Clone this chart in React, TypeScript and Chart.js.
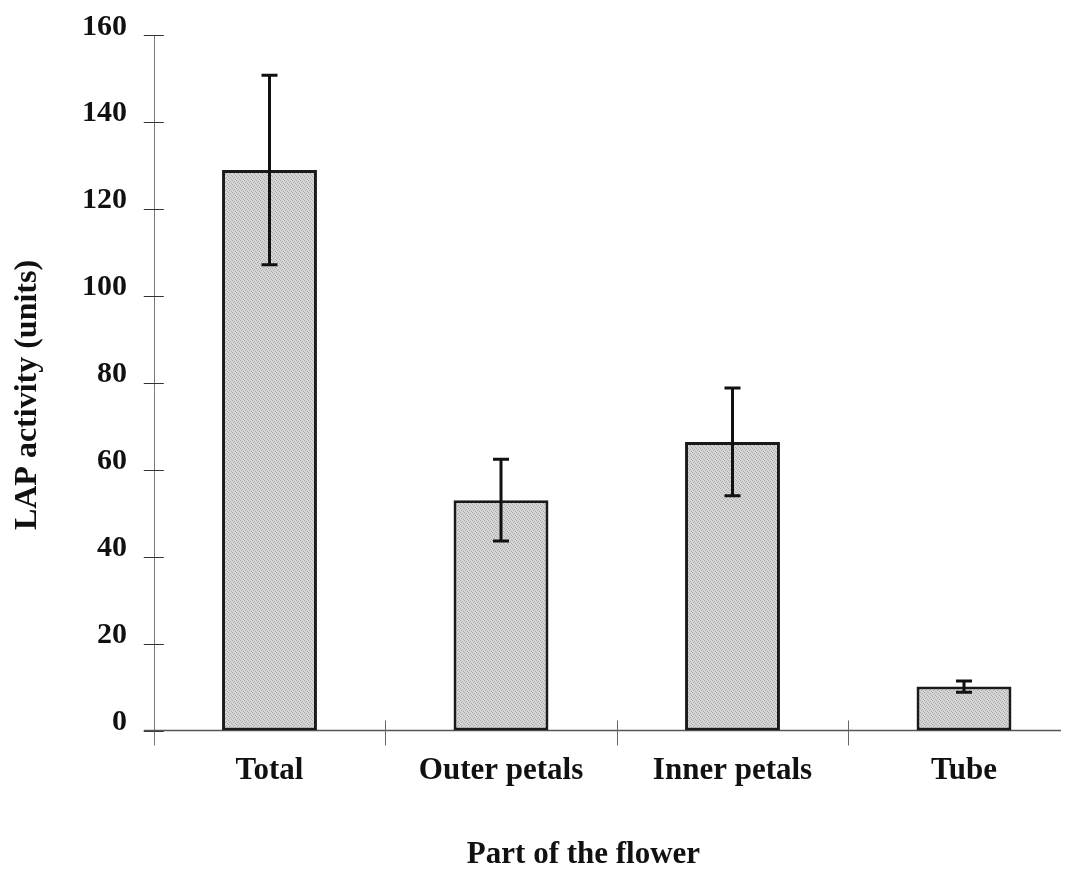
import { useEffect, useRef } from "react";
import { Chart, registerables } from "chart.js";

Chart.register(...registerables);

// Leucine aminopeptidase activity in different parts of the flower
const categories = ["Total", "Outer petals", "Inner petals", "Tube"];
const activityMeans = [129, 53, 66.4, 10.1];
const activityErrors = [21.8, 9.4, 12.4, 1.3];
const yTickValues = [0, 20, 40, 60, 80, 100, 120, 140, 160];
const yTitle = "LAP activity (units)";
const xTitle = "Part of the flower";

const SERIF = '"Liberation Serif", "Times New Roman", Times, serif';
const CANVAS_W = 1080;
const CANVAS_H = 863;

// Fine grey stipple used as the bar fill
function makeStipple(): CanvasPattern | string {
  const c = document.createElement("canvas");
  c.width = 4;
  c.height = 4;
  const g = c.getContext("2d");
  if (!g) return "#cbcbcb";
  g.fillStyle = "#d6d6d6";
  g.fillRect(0, 0, 4, 4);
  g.fillStyle = "#a9a9a9";
  [
    [0, 0],
    [2, 1],
    [1, 2],
    [3, 3],
  ].forEach(([px, py]) => g.fillRect(px, py, 1, 1));
  return g.createPattern(c, "repeat") ?? "#cbcbcb";
}

// Axis lines, crossing tick marks, error bars and axis titles
const framePlugin = {
  id: "frame",
  beforeDatasetsDraw(chart: any) {
    const { ctx, chartArea: a, scales } = chart;
    const x = scales.x;
    const y = scales.y;
    ctx.save();
    // vertical axis
    ctx.strokeStyle = "#7a7a7a";
    ctx.lineWidth = 1;
    ctx.beginPath();
    ctx.moveTo(Math.round(a.left) + 0.5, a.top);
    ctx.lineTo(Math.round(a.left) + 0.5, a.bottom + 15);
    ctx.stroke();
    // value ticks crossing the axis
    ctx.strokeStyle = "#333";
    ctx.beginPath();
    yTickValues.forEach((v) => {
      const py = Math.round(y.getPixelForValue(v)) + 0.5;
      ctx.moveTo(a.left - 10, py);
      ctx.lineTo(a.left + 10, py);
    });
    ctx.stroke();
    // baseline
    ctx.strokeStyle = "#555";
    ctx.lineWidth = 1.5;
    ctx.beginPath();
    ctx.moveTo(a.left - 10, a.bottom);
    ctx.lineTo(a.right, a.bottom);
    ctx.stroke();
    // category boundary ticks
    ctx.strokeStyle = "#666";
    ctx.lineWidth = 1;
    ctx.beginPath();
    for (let i = 1; i < categories.length; i++) {
      const px =
        Math.round((x.getPixelForValue(i - 1) + x.getPixelForValue(i)) / 2) + 0.5;
      ctx.moveTo(px, a.bottom - 10);
      ctx.lineTo(px, a.bottom + 15);
    }
    ctx.stroke();
    ctx.restore();
  },
  afterDatasetsDraw(chart: any) {
    const { ctx, scales } = chart;
    const x = scales.x;
    const y = scales.y;
    ctx.save();
    ctx.strokeStyle = "#111";
    ctx.lineWidth = 3;
    const cap = 8;
    activityMeans.forEach((m, i) => {
      const e = activityErrors[i];
      const px = x.getPixelForValue(i);
      const hi = y.getPixelForValue(m + e);
      const lo = y.getPixelForValue(m - e);
      ctx.beginPath();
      ctx.moveTo(px, hi);
      ctx.lineTo(px, lo);
      ctx.moveTo(px - cap, hi);
      ctx.lineTo(px + cap, hi);
      ctx.moveTo(px - cap, lo);
      ctx.lineTo(px + cap, lo);
      ctx.stroke();
    });
    ctx.restore();
  },
  afterDraw(chart: any) {
    const { ctx } = chart;
    ctx.save();
    ctx.fillStyle = "#111";
    ctx.textAlign = "center";
    ctx.textBaseline = "middle";
    ctx.font = `bold 32px ${SERIF}`;
    ctx.translate(20, 387);
    ctx.rotate(-Math.PI / 2);
    ctx.fillText(yTitle, 0, 0);
    ctx.restore();

    ctx.save();
    ctx.fillStyle = "#111";
    ctx.textAlign = "center";
    ctx.textBaseline = "middle";
    ctx.font = `bold 31px ${SERIF}`;
    ctx.fillText(xTitle, 575.5, 847);
    ctx.restore();
  },
};

export default function App() {
  const canvasRef = useRef<HTMLCanvasElement | null>(null);

  useEffect(() => {
    const canvas = canvasRef.current;
    if (!canvas) return;
    const chart = new Chart(canvas, {
      type: "bar",
      data: {
        labels: categories,
        datasets: [
          {
            data: activityMeans,
            backgroundColor: makeStipple() as any,
            borderColor: "#1a1a1a",
            borderWidth: 3,
            borderSkipped: false,
            barPercentage: 0.41,
            categoryPercentage: 1,
          },
        ],
      },
      options: {
        responsive: false,
        animation: false,
        devicePixelRatio: 1,
        layout: { padding: { top: 27.3, right: 8.25, left: 0, bottom: 0 } },
        plugins: {
          legend: { display: false },
          tooltip: { enabled: false },
        },
        scales: {
          x: {
            grid: { display: false, drawTicks: false },
            border: { display: false },
            ticks: {
              color: "#111",
              padding: 21.5,
              font: { family: SERIF, size: 31, weight: "bold" },
            },
            afterFit(scale: any) {
              scale.height = 140.5;
              scale.paddingLeft = 0;
              scale.paddingRight = 0;
            },
          },
          y: {
            min: 0,
            max: 160,
            grid: { display: false, drawTicks: false },
            border: { display: false },
            ticks: {
              stepSize: 20,
              color: "#111",
              padding: 26.75,
              labelOffset: -8.5,
              font: { family: SERIF, size: 30, weight: "bold" },
            },
            afterFit(scale: any) {
              scale.width = 145.75;
              scale.paddingTop = 0;
              scale.paddingBottom = 0;
            },
          },
        },
      },
      plugins: [framePlugin],
    });
    return () => chart.destroy();
  }, []);

  return (
    <div style={{ width: 1061, height: CANVAS_H, overflow: "hidden" }}>
      <canvas
        ref={canvasRef}
        width={CANVAS_W}
        height={CANVAS_H}
        style={{ display: "block", width: CANVAS_W, height: CANVAS_H }}
      />
    </div>
  );
}
